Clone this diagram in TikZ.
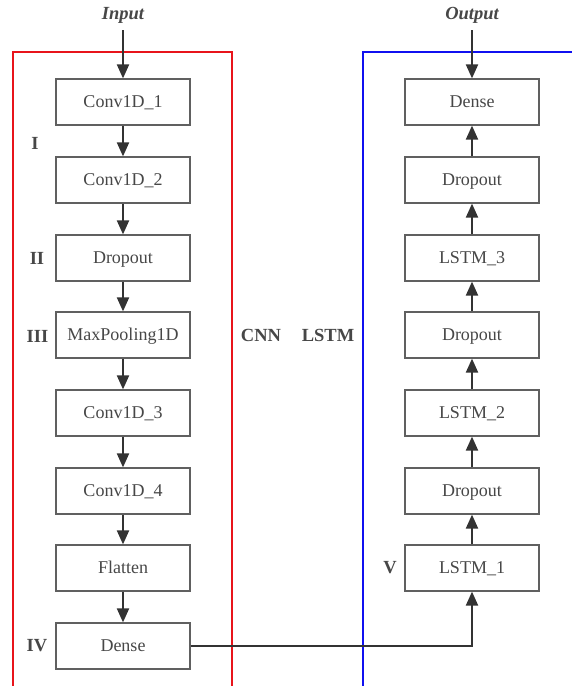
\documentclass[tikz,border=0pt]{standalone}
\usepackage{fontspec}
\setmainfont{Liberation Serif}
\usetikzlibrary{arrows.meta}
\definecolor{boxline}{HTML}{606060}
\definecolor{txt}{HTML}{474747}
\definecolor{arr}{HTML}{333333}
\definecolor{cnnred}{HTML}{E8141B}
\definecolor{lstmblue}{HTML}{1010F0}
\tikzset{
  layer/.style={draw=boxline, line width=1.2pt, minimum width=134pt, minimum height=46pt,
    inner sep=0pt, text height=11.5pt, text depth=0pt, text=txt, font=\fontsize{18}{20}\selectfont},
  flow/.style={draw=arr, line width=2pt, -{Triangle[length=14pt,width=12pt]}},
  tag/.style={text=txt, font=\bfseries\fontsize{18.5}{21}\selectfont},
  io/.style={text=txt, font=\bfseries\itshape\fontsize{18.5}{21}\selectfont}
}
\begin{document}
\begin{tikzpicture}[x=1pt,y=-1pt]
\useasboundingbox (0,0) rectangle (572,686);
\fill[white] (0,0) rectangle (572,686);
% group frames
\draw[cnnred, line width=2pt] (13,695) -- (13,52) -- (232,52) -- (232,695);
\draw[lstmblue, line width=2pt] (363,695) -- (363,52) -- (585,52);
% CNN column
\node[layer] (c1) at (123,102) {Conv1D\_1};
\node[layer] (c2) at (123,180) {Conv1D\_2};
\node[layer] (c3) at (123,258) {Dropout};
\node[layer] (c4) at (123,335) {MaxPooling1D};
\node[layer] (c5) at (123,413) {Conv1D\_3};
\node[layer] (c6) at (123,491) {Conv1D\_4};
\node[layer] (c7) at (123,568) {Flatten};
\node[layer] (c8) at (123,646) {Dense};
% LSTM column
\node[layer] (l7) at (472,102) {Dense};
\node[layer] (l6) at (472,180) {Dropout};
\node[layer] (l5) at (472,258) {LSTM\_3};
\node[layer] (l4) at (472,335) {Dropout};
\node[layer] (l3) at (472,413) {LSTM\_2};
\node[layer] (l2) at (472,491) {Dropout};
\node[layer] (l1) at (472,568) {LSTM\_1};
% io labels
\node[io] (in) at (123,15) {Input};
\node[io] (out) at (472,15) {Output};
\coordinate (inS) at (123,30);
\coordinate (outS) at (472,30);
\draw[flow] (inS) -- (c1.north);
\draw[flow] (outS) -- (l7.north);
% CNN arrows
\foreach \a/\b in {c1/c2,c2/c3,c3/c4,c4/c5,c5/c6,c6/c7,c7/c8}
  \draw[flow] (\a.south) -- (\b.north);
% LSTM arrows
\foreach \a/\b in {l1/l2,l2/l3,l3/l4,l4/l5,l5/l6,l6/l7}
  \draw[flow] (\a.north) -- (\b.south);
% bridge
\draw[flow] (c8.east) -| (l1.south);
% tags
\node[tag] (t1) at (35,143) {I};
\node[tag] (t2) at (37,258) {II};
\node[tag] (t3) at (37.5,336) {III};
\node[tag] (t4) at (37,646) {IV};
\node[tag] (t5) at (390,568) {V};
\node[tag] (cnn) at (261,335) {CNN};
\node[tag] (lstm) at (328,335) {LSTM};
\end{tikzpicture}
\end{document}
